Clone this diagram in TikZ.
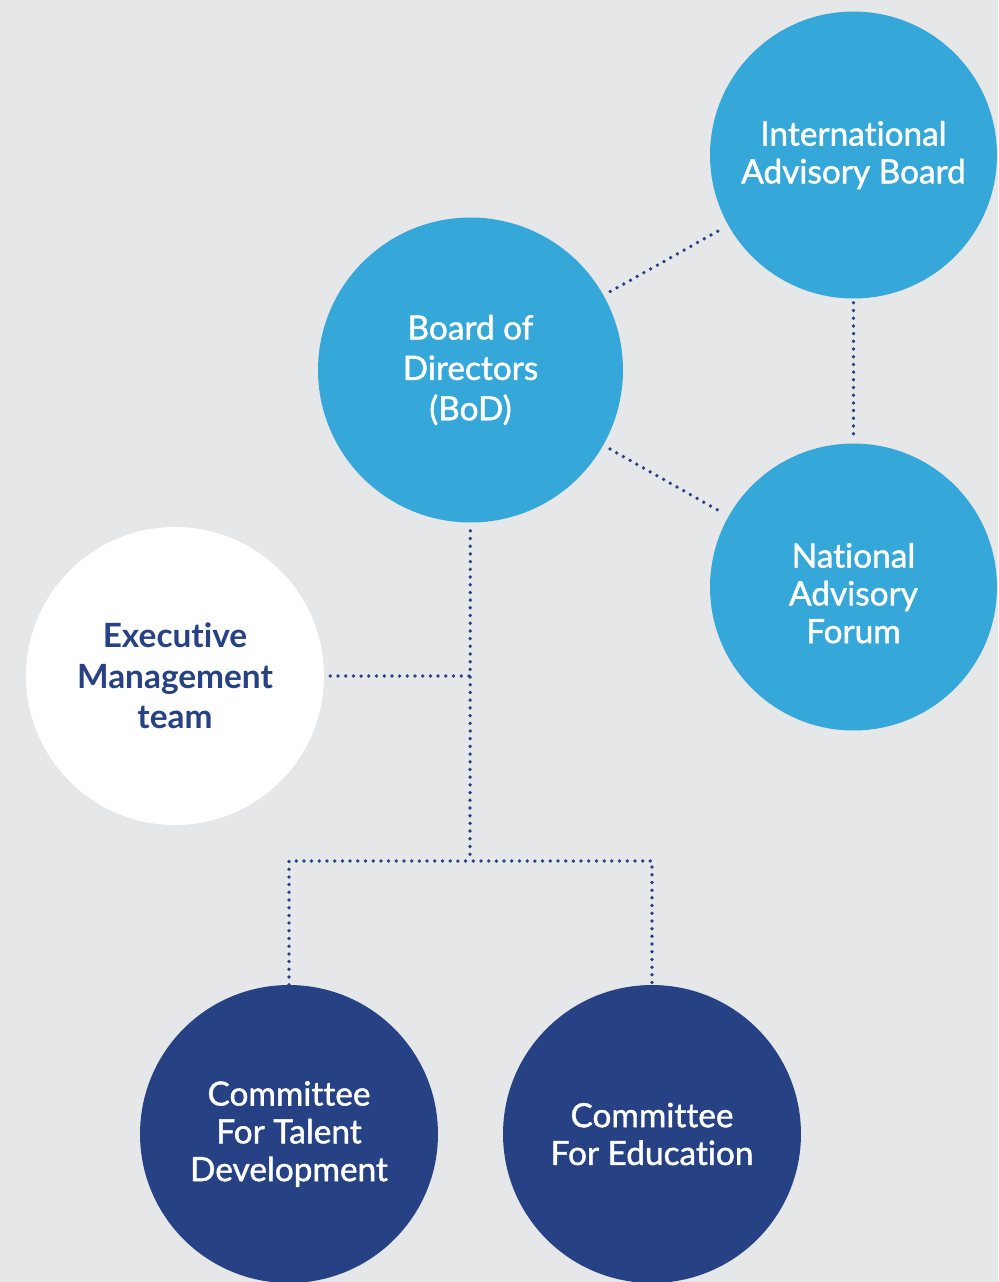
\documentclass[tikz,border=0pt]{standalone}
\usepackage{fontspec}
\setmainfont{Lato}[RawFeature={-liga;-dlig}]
\newfontfamily\orgfont{Lato}[RawFeature={-liga;-dlig},FakeBold=1.3]
\definecolor{bgGray}{HTML}{E6E7E9}
\definecolor{skyBlue}{HTML}{35A8D9}
\definecolor{deepNavy}{HTML}{264184}
\begin{document}
\begin{tikzpicture}[x=0.02cm,y=-0.02cm,
        org/.style={circle,inner sep=0pt,align=center,text=white,font=\orgfont\fontsize{19}{21.5}\selectfont},
        sky/.style={org,fill=skyBlue,minimum size=5.74cm},
        navy/.style={org,fill=deepNavy,minimum size=5.96cm},
        dots/.style={deepNavy,line width=0.075cm,line cap=round,dash pattern=on 0pt off 0.154cm}]
        \clip (0,0) rectangle (998,1282); %枠
        \fill[bgGray] (0,0) rectangle (998,1282); %背景
        \node[sky] (iab) at (853.5,155) {International\\Advisory Board};
        \node[sky,minimum size=6.1cm,font=\orgfont\fontsize{19}{23}\selectfont] (bod) at (470.5,370) {Board of\\Directors\\(BoD)};
        \node[sky] (naf) at (853.5,587) {\rule{0pt}{21pt}National\\Advisory\\Forum};
        \node[org,fill=white,minimum size=5.96cm,text=deepNavy,font=\fontsize{19}{23}\selectfont\bfseries] (emt) at (175,676) {Executive\\Management\\team};
        \node[navy] (ctd) at (289,1134) {Committee\\For Talent\\Development};
        \node[navy] (ced) at (652,1134) {Committee\\For Education};
        \coordinate (join) at (470,676); %分岐
        \coordinate (split) at (470,861);
        \draw[dots,shorten <=0.15cm,shorten >=0.12cm] (bod) -- (iab);
        \draw[dots,shorten <=0.15cm,shorten >=0.12cm] (bod) -- (naf);
        \draw[dots,shorten <=0.08cm,shorten >=0.1cm] (iab) -- (naf);
        \draw[dots,shorten <=0.16cm] (bod) -- (split);
        \draw[dots,shorten <=0.12cm] (emt) -- (join);
        \draw[dots] (ctd.north) |- (split) -| (ced.north);
    \end{tikzpicture}
\end{document}
